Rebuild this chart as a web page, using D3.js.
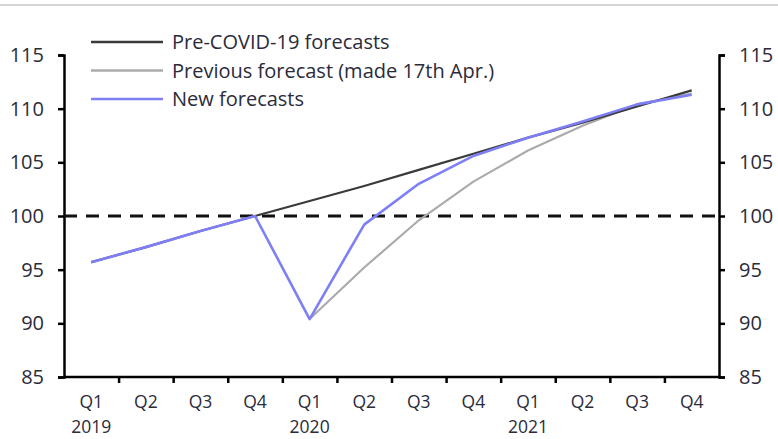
<!DOCTYPE html>
<html><head><meta charset="utf-8">
<script src="https://cdn.jsdelivr.net/npm/d3@7"></script>
<style>body{margin:0;background:#fff}svg{display:block}text{font-family:"Open Sans","Liberation Sans",sans-serif;fill:#2b2b3a}</style>
</head><body><svg id="c" width="778" height="439"></svg>
<script>
const quarters = ["Q1","Q2","Q3","Q4","Q1","Q2","Q3","Q4","Q1","Q2","Q3","Q4"];
const years = ["2019","","","","2020","","","","2021","","",""];
const preCovid = [95.7,97.1,98.6,100,101.4,102.8,104.3,105.8,107.3,108.7,110.2,111.7];
const previous = [null,null,null,null,90.4,95.2,99.6,103.2,106.1,108.4,110.4,111.4];
const newFc = [95.7,97.1,98.6,100,90.4,99.2,103.0,105.6,107.3,108.8,110.4,111.3];
const yTicks = [85,90,95,100,105,110,115];
const seriesNames = ["Pre-COVID-19 forecasts","Previous forecast (made 17th Apr.)","New forecasts"];
const seriesColors = ["#3a3a3a","#ababab","#7f7ff5"];

const FS = 20, FSX = 17.5;
const svg = d3.select("#c");
const L=64,R=719,T=55,B=377;
const idx = d3.range(quarters.length);
const x = d3.scaleBand().domain(idx).range([L,R]);
const y = d3.scaleLinear().domain([85,115]).range([B,T]);

svg.append("line").attr("x1",0).attr("x2",778).attr("y1",5).attr("y2",5).attr("stroke","#d4d4d4").attr("stroke-width",2);

const fmt = d=>d;
const ax = (g)=>{g.selectAll(".domain").attr("stroke","#000").attr("stroke-width",2.5);
  g.selectAll(".tick line").attr("stroke","#000").attr("stroke-width",2.5);
  g.selectAll("text").attr("font-size",FS).style("font-family",'"Open Sans","Liberation Sans",sans-serif').attr("fill","#2b2b3a");};
svg.append("g").attr("transform",`translate(${L},0)`).call(d3.axisLeft(y).tickValues(yTicks).tickSize(6).tickSizeOuter(6).tickPadding(14).tickFormat(fmt)).call(ax);
svg.append("g").attr("transform",`translate(${R},0)`).call(d3.axisRight(y).tickValues(yTicks).tickSize(6).tickSizeOuter(6).tickPadding(14).tickFormat(fmt)).call(ax);

const xb = d3.scaleLinear().domain([0,quarters.length]).range([L,R]);
const bg = svg.append("g").attr("transform",`translate(0,${B})`).call(d3.axisBottom(xb).tickValues(d3.range(1,quarters.length)).tickSize(6).tickSizeOuter(0).tickFormat(""));
ax(bg);
bg.select(".domain").attr("d",`M${L},0H${R}`);
const lab = svg.append("g");
lab.selectAll("text.q").data(idx).join("text").attr("class","q")
  .attr("x",i=>x(i)+x.bandwidth()/2).attr("y",408).attr("text-anchor","middle").attr("font-size",FSX).text(i=>quarters[i]);
lab.selectAll("text.yr").data(idx.filter(i=>years[i])).join("text").attr("class","yr")
  .attr("x",i=>x(i)+x.bandwidth()/2).attr("y",433).attr("text-anchor","middle").attr("font-size",FSX).text(i=>years[i]);

svg.append("line").attr("x1",L).attr("x2",R).attr("y1",y(100)).attr("y2",y(100))
  .attr("stroke","#111").attr("stroke-width",3).attr("stroke-dasharray","13,9");

const line = d3.line().defined(d=>d[1]!=null).x(d=>x(d[0])+x.bandwidth()/2).y(d=>y(d[1]));
const draw=(vals,col,w)=>svg.append("path").datum(vals.map((v,i)=>[i,v])).attr("d",line)
  .attr("fill","none").attr("stroke",col).attr("stroke-width",w).attr("stroke-linejoin","round");
draw(previous,seriesColors[1],2.2);
draw(preCovid,seriesColors[0],2.2);
draw(newFc,seriesColors[2],2.6);

const lg = svg.append("g");
seriesNames.forEach((n,i)=>{
  const yy = 42+i*28.5;
  lg.append("line").attr("x1",91).attr("x2",163).attr("y1",yy).attr("y2",yy).attr("stroke",seriesColors[i]).attr("stroke-width",2.6);
  lg.append("text").attr("x",172).attr("y",yy+7).attr("font-size",FS).text(n);
});
</script></body></html>
